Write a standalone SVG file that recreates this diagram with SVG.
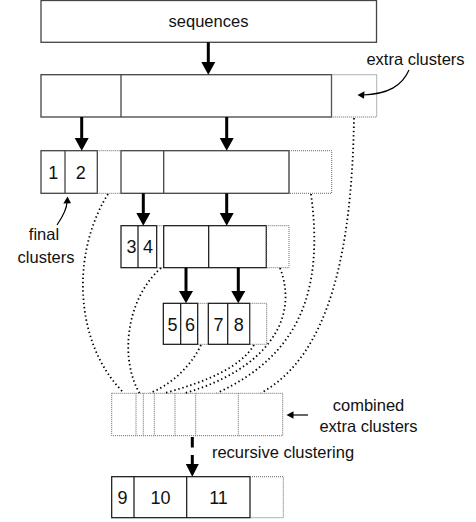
<svg xmlns="http://www.w3.org/2000/svg" width="476" height="522" viewBox="0 0 476 522">
<style>
.box{fill:#fff;stroke:#444;stroke-width:1.3}
.box2{fill:#fff;stroke:#111;stroke-width:1.2}
.ex{fill:none;stroke:#666;stroke-width:1;stroke-dasharray:1 1}
.cv{fill:none;stroke:#000;stroke-width:1.8;stroke-dasharray:1.4 2.8}
.t{font-family:"Liberation Sans",Arial,sans-serif;font-size:16.5px;fill:#111;text-anchor:middle}
.n{font-family:"Liberation Sans",Arial,sans-serif;font-size:18px;fill:#111;text-anchor:middle}
.sh{stroke:#000;stroke-width:3;fill:none}
.hd{fill:#000}
.thin{stroke:#000;stroke-width:1.2;fill:none}
</style>

<g id="seq">
<rect class="box" x="41" y="0.5" width="335.5" height="41.8"/>
<text class="t" x="208.5" y="27">sequences</text>
</g>

<g id="row2">
<rect class="box" x="41" y="74.7" width="290.5" height="42.3"/>
<line class="box" x1="121" y1="74.7" x2="121" y2="117"/>
<rect class="ex" x="331.5" y="74.7" width="45.2" height="42.3"/>
</g>

<g id="extra-label">
<text class="t" x="415.5" y="65">extra clusters</text>
</g>

<g id="row3a">
<rect class="box" x="41" y="150.7" width="56.3" height="42.6"/>
<line class="box" x1="65" y1="150.7" x2="65" y2="193.3"/>
<text class="n" x="53.3" y="178.5">1</text>
<text class="n" x="80.7" y="178.5">2</text>
<path class="ex" d="M97.3,150.7 H120.5 M97.3,193.3 H120.5"/>
</g>

<g id="row3b">
<rect class="box" x="121" y="150.7" width="168" height="42.6"/>
<line class="box" x1="163.7" y1="150.7" x2="163.7" y2="193.3"/>
<rect class="ex" x="289" y="150.7" width="42.7" height="42.6"/>
</g>

<g id="final-label">
<text class="t" x="44" y="240">final</text>
<text class="t" x="46" y="263">clusters</text>
</g>

<g id="row4a">
<rect class="box2" x="121" y="225.7" width="35.7" height="42"/>
<line class="box2" x1="138" y1="225.7" x2="138" y2="267.7"/>
<text class="n" x="131.5" y="253">3</text>
<text class="n" x="148" y="253">4</text>
<path class="ex" d="M156.7,225.7 H163.3 M156.7,267.7 H163.3"/>
</g>

<g id="row4b">
<rect class="box2" x="163.7" y="225.7" width="102.6" height="42"/>
<line class="box2" x1="208.7" y1="225.7" x2="208.7" y2="267.7"/>
<rect class="ex" x="266.3" y="225.7" width="22.7" height="42"/>
</g>

<g id="row5a">
<rect class="box2" x="163.3" y="303.3" width="34.4" height="41"/>
<line class="box2" x1="180.7" y1="303.3" x2="180.7" y2="344.3"/>
<text class="n" x="172.5" y="330.5">5</text>
<text class="n" x="190" y="330.5">6</text>
<path class="ex" d="M197.7,303.3 H208 M197.7,344.3 H208"/>
</g>

<g id="row5b">
<rect class="box2" x="208.3" y="303.3" width="41.4" height="41"/>
<line class="box2" x1="227.7" y1="303.3" x2="227.7" y2="344.3"/>
<text class="n" x="218.5" y="330.5">7</text>
<text class="n" x="238.7" y="330.5">8</text>
<rect class="ex" x="249.7" y="303.3" width="17" height="41"/>
</g>

<g id="combined">
<rect class="ex" x="111.7" y="393.3" width="171" height="42.4"/>
<path class="ex" d="M136,393.3 V435.7 M143.3,393.3 V435.7 M154.3,393.3 V435.7 M175,393.3 V435.7 M195.7,393.3 V435.7 M238.3,393.3 V435.7"/>
</g>

<g id="combined-label">
<text class="t" x="368.5" y="411">combined</text>
<text class="t" x="368.5" y="432">extra clusters</text>
</g>

<g id="recursive-label">
<text class="t" x="283" y="457.5">recursive clustering</text>
</g>

<g id="row7">
<rect class="box2" x="111.7" y="476.7" width="138.3" height="41"/>
<line class="box2" x1="134" y1="476.7" x2="134" y2="517.7"/>
<line class="box2" x1="186.7" y1="476.7" x2="186.7" y2="517.7"/>
<text class="n" x="122.5" y="503.5">9</text>
<text class="n" x="160.5" y="503.5">10</text>
<text class="n" x="218.5" y="503.5">11</text>
<rect class="ex" x="250" y="476.7" width="33.3" height="41"/>
</g>

<g id="connectors">
<line class="sh" x1="208.3" y1="42.3" x2="208.3" y2="63"/>
<polygon class="hd" points="201.3,62 215.3,62 208.3,74.7"/>
<line class="sh" x1="81.7" y1="117" x2="81.7" y2="139"/>
<polygon class="hd" points="74.7,138 88.7,138 81.7,150.7"/>
<line class="sh" x1="226.7" y1="117" x2="226.7" y2="139"/>
<polygon class="hd" points="219.7,138 233.7,138 226.7,150.7"/>
<line class="sh" x1="143.3" y1="193.3" x2="143.3" y2="214"/>
<polygon class="hd" points="136.3,213 150.3,213 143.3,225.7"/>
<line class="sh" x1="226.7" y1="193.3" x2="226.7" y2="214"/>
<polygon class="hd" points="219.7,213 233.7,213 226.7,225.7"/>
<line class="sh" x1="186" y1="267.7" x2="186" y2="292"/>
<polygon class="hd" points="179,291 193,291 186,303.3"/>
<line class="sh" x1="238.3" y1="267.7" x2="238.3" y2="292"/>
<polygon class="hd" points="231.3,291 245.3,291 238.3,303.3"/>
<line class="sh" x1="192.3" y1="437" x2="192.3" y2="447.5"/>
<line class="sh" x1="192.3" y1="455" x2="192.3" y2="465"/>
<polygon class="hd" points="185.8,464 198.8,464 192.3,476.7"/>

<path class="thin" d="M409,70 C402,86 388,94 363,95"/>
<polygon class="hd" points="357.5,95 364.5,91.3 364,98.8"/>
<path class="thin" d="M57,225 C63,216 67,209 67,202"/>
<polygon class="hd" points="67.5,196.5 63.3,203.5 71,203.3"/>
<line class="thin" x1="308" y1="415" x2="292" y2="415"/>
<polygon class="hd" points="286.5,415 293.5,411.3 293.5,418.7"/>

<path class="cv" d="M354,118 C352,250 330,355 261,393"/>
<path class="cv" d="M311,194 C324,290 300,355 217,393"/>
<path class="cv" d="M280,268 C300,320 265,370 185,393"/>
<path class="cv" d="M254,345 C240,368 205,382 165,393"/>
<path class="cv" d="M201,345 C190,368 170,385 150,393"/>
<path class="cv" d="M161,268 C125,300 120,360 139.5,393"/>
<path class="cv" d="M108,194 C70,255 75,345 124,393"/>
</g>
</svg>
